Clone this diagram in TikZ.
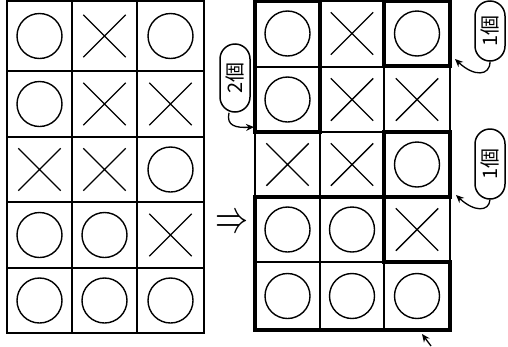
\documentclass[tikz,border=0pt]{standalone}
\usepackage{fontspec}
\newfontfamily\cjk{Noto Sans CJK JP}
\usetikzlibrary{shapes.misc,arrows.meta}
\begin{document}
\begin{tikzpicture}[x=1pt,y=-1pt,
  gridline/.style={line width=1.5pt},
  boldline/.style={line width=4.8pt,line cap=square},
  maru/.style={circle,draw,line width=1.4pt,minimum size=45pt,inner sep=0pt},
  batsu/.style={cross out,draw,line width=1.4pt,minimum size=41pt,inner sep=0pt},
  bubble/.style={rounded rectangle,draw,line width=1.5pt,rotate=90,minimum height=30pt,inner sep=1pt,font=\cjk\fontsize{20}{20}\selectfont},
  tail/.style={line width=1.3pt,-{Stealth[length=8pt,width=7pt]}}]
\useasboundingbox (0,0) rectangle (508,346);
% left grid
\draw[gridline] (7,0.8) rectangle (204,333);
\foreach \x in {72,137} \draw[gridline] (\x,0.8) -- (\x,333);
\foreach \y in {71,137,202,268} \draw[gridline] (7,\y) -- (204,\y);
% right grid thin lines
\draw[gridline] (255,0.8) rectangle (450,330);
\foreach \x in {320,384} \draw[gridline] (\x,0.8) -- (\x,330);
\foreach \y in {67,132,197,262} \draw[gridline] (255,\y) -- (450,\y);
% right grid bold groups
\draw[boldline] (255,1) -- (255,132) -- (320,132) -- (320,1) -- cycle;
\draw[boldline] (384,1) -- (384,66) -- (450,66) -- (450,1) -- cycle;
\draw[boldline] (384,132) rectangle (450,197);
\draw[boldline] (255,197) -- (384,197) -- (384,262) -- (450,262) -- (450,330) -- (255,330) -- cycle;
% symbol positions
\foreach \cy/\r in {36/1,104/2,169.5/3,235/4,300.5/5}{
  \foreach \cx/\c in {39.5/1,104.5/2,170.5/3}{
    \coordinate (L\r\c) at (\cx,\cy);
  }
}
\foreach \cy/\r in {33.5/1,99.5/2,164.5/3,229.5/4,296/5}{
  \foreach \cx/\c in {287.5/1,352/2,417/3}{
    \coordinate (R\r\c) at (\cx,\cy);
  }
}
\foreach \s in {L,R}{
  \node[maru]  (\s11n) at (\s11) {};
  \node[batsu] (\s12n) at (\s12) {};
  \node[maru]  (\s13n) at (\s13) {};
  \node[maru]  (\s21n) at (\s21) {};
  \node[batsu] (\s22n) at (\s22) {};
  \node[batsu] (\s23n) at (\s23) {};
  \node[batsu] (\s31n) at (\s31) {};
  \node[batsu] (\s32n) at (\s32) {};
  \node[maru]  (\s33n) at (\s33) {};
  \node[maru]  (\s41n) at (\s41) {};
  \node[maru]  (\s42n) at (\s42) {};
  \node[batsu] (\s43n) at (\s43) {};
  \node[maru]  (\s51n) at (\s51) {};
  \node[maru]  (\s52n) at (\s52) {};
  \node[maru]  (\s53n) at (\s53) {};
}
% implication arrow
\node[inner sep=0pt] (imp) at (232,224) {\scalebox{3.3}[4.6]{$\Rightarrow$}};
% callouts
\node[bubble,minimum width=70pt] (c2) at (235,78) {2個};
\node[bubble,minimum width=62pt] (c1a) at (490,31) {1個};
\node[bubble,minimum width=72pt] (c1b) at (490,164) {1個};
\coordinate (t2) at (254,127);
\coordinate (t1a) at (455,59);
\coordinate (t1b) at (456,195);
\coordinate (t3s) at (431,346);
\coordinate (t3) at (422,334);
\draw[tail] ([xshift=-6pt]c2.west) .. controls (226,126) and (236,128) .. (t2);
\draw[tail] (c1a.west) .. controls (490,76) and (474,77) .. (t1a);
\draw[tail] (c1b.west) .. controls (489,212) and (474,212) .. (t1b);
\draw[tail] (t3s) -- (t3);
\end{tikzpicture}
\end{document}
